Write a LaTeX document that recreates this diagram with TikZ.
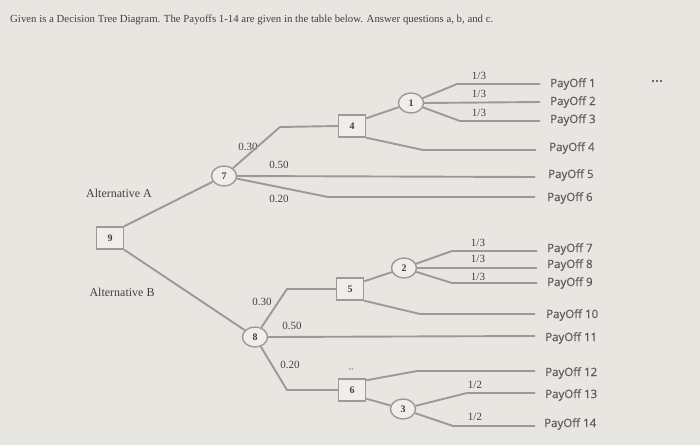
\documentclass[tikz,border=0pt]{standalone}
\usepackage{fontspec}
\setmainfont{Liberation Serif}
\newfontfamily\payfont[FakeBold=0.5]{Open Sans}
\usetikzlibrary{shapes.geometric}
\definecolor{bgc}{HTML}{E8E6E1}
\definecolor{linec}{HTML}{9C9A97}
\definecolor{boxfill}{HTML}{EFEEEA}
\definecolor{txtc}{HTML}{43413F}
\definecolor{payc}{HTML}{5E5C5A}
\tikzset{
  br/.style={draw=linec, line width=1.9pt, line join=round},
  dbox/.style={draw=linec, line width=1.4pt, fill=boxfill, minimum width=27pt, minimum height=22pt, inner sep=0pt, font=\fontsize{10}{10}\selectfont\bfseries, text=txtc},
  chance/.style={ellipse, draw=linec, line width=1.4pt, fill=boxfill, minimum width=25pt, minimum height=20pt, inner sep=0pt, font=\fontsize{10}{10}\selectfont\bfseries, text=txtc},
  prob/.style={font=\fontsize{11}{11}\selectfont, text=txtc, inner sep=0pt},
  pay/.style={anchor=west, font=\payfont\fontsize{11.5}{12}\selectfont, text=payc, inner sep=0pt},
  alt/.style={font=\fontsize{12}{12}\selectfont, text=txtc, inner sep=0pt}
}
\begin{document}
\begin{tikzpicture}[x=1pt,y=-1pt]
\fill[bgc] (0,0) rectangle (700,445);
\useasboundingbox (0,0) rectangle (700,445);
% title
\node[anchor=west, inner sep=0pt, text=txtc, font=\fontsize{10.8}{11}\selectfont] (title) at (10,20) {Given is a Decision Tree Diagram. The Payoffs 1-14 are given in the table below. Answer questions a, b, and c.};
% nodes
\node[dbox] (b9) at (110,238) {9};
\node[chance] (c7) at (224,176) {7};
\node[dbox] (b4) at (352,126) {4};
\node[chance] (c1) at (411,103) {1};
\node[chance] (c8) at (255,337) {8};
\node[dbox] (b5) at (350,289) {5};
\node[chance] (c2) at (404,268) {2};
\node[dbox] (b6) at (352,390) {6};
\node[chance] (c3) at (403,409) {3};
% labels
\node[alt] (altA) at (119,193) {Alternative A};
\node[alt] (altB) at (122,292) {Alternative B};
\node[prob] (p730) at (248,147) {0.30};
\node[prob] (p750) at (279,165) {0.50};
\node[prob] (p720) at (279,199) {0.20};
\node[prob] (p830) at (262,302) {0.30};
\node[prob] (p850) at (292,326) {0.50};
\node[prob] (p820) at (290,365) {0.20};
\node[prob] (q11) at (479,76) {1/3};
\node[prob] (q12) at (479,94) {1/3};
\node[prob] (q13) at (479,113) {1/3};
\node[prob] (q21) at (478,243) {1/3};
\node[prob] (q22) at (478,259) {1/3};
\node[prob] (q23) at (478,277) {1/3};
\node[prob] (q31) at (475,385) {1/2};
\node[prob] (q32) at (475,417) {1/2};
\node[font=\payfont\fontsize{15}{15}\selectfont, text=payc, inner sep=0pt] (dots1) at (657,81) {...};
\node[font=\payfont\fontsize{10}{10}\selectfont, text=payc!70, inner sep=0pt] (dots2) at (351,369) {..};
% payoffs
\node[pay] (P1) at (550,84) {PayOff 1};
\node[pay] (P2) at (550,102) {PayOff 2};
\node[pay] (P3) at (550,120) {PayOff 3};
\node[pay] (P4) at (549,148) {PayOff 4};
\node[pay] (P5) at (548,175) {PayOff 5};
\node[pay] (P6) at (547,198) {PayOff 6};
\node[pay] (P7) at (547,249) {PayOff 7};
\node[pay] (P8) at (547,265) {PayOff 8};
\node[pay] (P9) at (547,283) {PayOff 9};
\node[pay] (P10) at (546,315) {PayOff 10};
\node[pay] (P11) at (545,338) {PayOff 11};
\node[pay] (P12) at (545,373) {PayOff 12};
\node[pay] (P13) at (545,395) {PayOff 13};
\node[pay] (P14) at (544,424) {PayOff 14};
% end coordinates
\coordinate (e1) at (540,84);
\coordinate (e2) at (540,102);
\coordinate (e3) at (540,121);
\coordinate (e4) at (536,150);
\coordinate (e5) at (535,177);
\coordinate (e6) at (535,197);
\coordinate (e7) at (537,251);
\coordinate (e8) at (537,268);
\coordinate (e9) at (537,283);
\coordinate (e10) at (535,314);
\coordinate (e11) at (535,336);
\coordinate (e12) at (535,371);
\coordinate (e13) at (535,393);
\coordinate (e14) at (535,426);
% kinks
\coordinate (k7a) at (280,127);
\coordinate (k7c) at (328,197);
\coordinate (k4b) at (423,150);
\coordinate (k1a) at (457,84);
\coordinate (k1c) at (460,121);
\coordinate (k8a) at (287,289);
\coordinate (k8c) at (287,390);
\coordinate (k5b) at (420,314);
\coordinate (k2a) at (452,251);
\coordinate (k2c) at (452,283);
\coordinate (k6a) at (417,371);
\coordinate (k3a) at (467,393);
\coordinate (k3b) at (453,426);
% connectors
\draw[br] (b9.north east) -- (c7);
\draw[br] (b9.south east) -- (c8);
\draw[br] (c7) -- (k7a) -- (b4.west);
\draw[br] (c7.east) -- (e5);
\draw[br] (c7) -- (k7c) -- (e6);
\draw[br] ([yshift=-4pt]b4.north east) -- (c1);
\draw[br] (b4.south east) -- (k4b) -- (e4);
\draw[br] (c1) -- (k1a) -- (e1);
\draw[br] (c1.east) -- (e2);
\draw[br] (c1) -- (k1c) -- (e3);
\draw[br] (c8) -- (k8a) -- (b5.west);
\draw[br] (c8.east) -- (e11);
\draw[br] (c8) -- (k8c) -- (b6.west);
\draw[br] ([yshift=-4pt]b5.north east) -- (c2);
\draw[br] (b5.south east) -- (k5b) -- (e10);
\draw[br] (c2) -- (k2a) -- (e7);
\draw[br] (c2.east) -- (e8);
\draw[br] (c2) -- (k2c) -- (e9);
\draw[br] ([yshift=-2pt]b6.north east) -- (k6a) -- (e12);
\draw[br] ([yshift=3pt]b6.south east) -- (c3);
\draw[br] (c3) -- (k3a) -- (e13);
\draw[br] (c3) -- (k3b) -- (e14);
\end{tikzpicture}
\end{document}
